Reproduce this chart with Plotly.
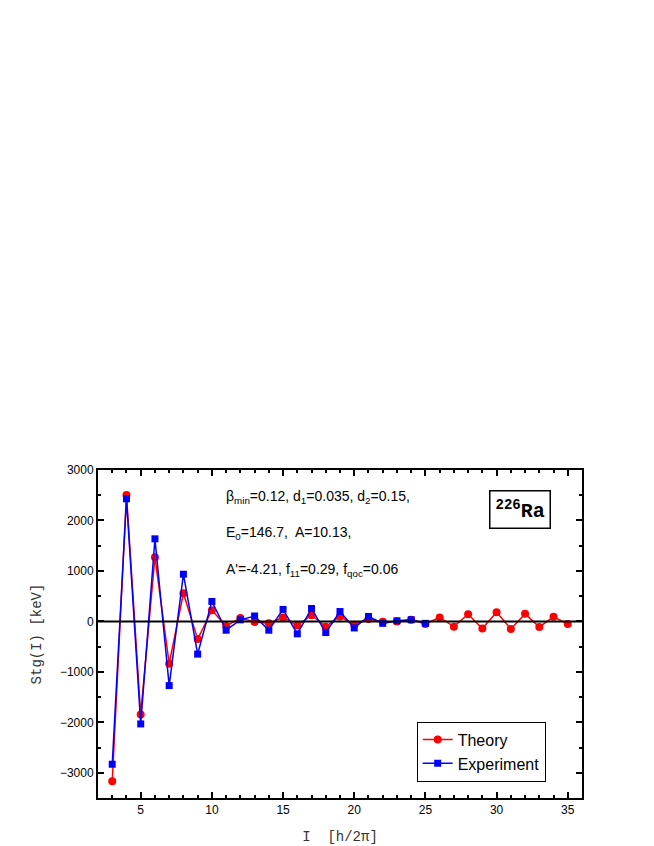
import plotly.graph_objects as go

I_theory = list(range(3, 36))
theory = [-3170, 2506, -1844, 1273, -838, 558, -351, 221, -91, 65, -13, -39, 78, -84, 123, -104,
          97, -65, 45, -6, 0, 32, -52, 78, -104, 143, -143, 182, -149, 149, -110, 91, -52]
I_exp = list(range(3, 26))
experiment = [-2831, 2429, -2032, 1636, -1273, 935, -649, 395, -175, 30, 107, -175, 237, -247, 255, -221,
              195, -130, 97, -39, 13, 32, -39]

fig = go.Figure()
fig.add_hline(y=0, line=dict(color="black", width=2))
fig.add_trace(go.Scatter(x=I_theory, y=theory, mode="lines+markers", name="Theory",
                         line=dict(color="red", width=1.5), marker=dict(symbol="circle", size=8, color="red")))
fig.add_trace(go.Scatter(x=I_exp, y=experiment, mode="lines+markers", name="Experiment",
                         line=dict(color="blue", width=1.5), marker=dict(symbol="square", size=7, color="blue")))

ax = dict(showline=True, linecolor="black", linewidth=2, mirror="ticks", ticks="inside",
          ticklen=6, tickwidth=1.5, tickcolor="black", showgrid=False, zeroline=False,
          tickfont=dict(family="Arial", size=12, color="black"))
fig.update_xaxes(**ax, range=[2, 36], tickvals=[5, 10, 15, 20, 25, 30, 35],
                 minor=dict(ticks="inside", ticklen=3, dtick=1, tickcolor="black"),
                 title=dict(text="I  [h/2π]", font=dict(family="Courier New, Liberation Mono", size=14, color="#333")))
fig.update_yaxes(**ax, range=[-3500, 3000], dtick=1000,
                 minor=dict(ticks="inside", ticklen=3, dtick=500, tickcolor="black"),
                 title=dict(text="Stg(I) [keV]", font=dict(family="Courier New, Liberation Mono", size=14, color="#333")))

fig.add_annotation(xref="paper", yref="paper", x=0.26, y=0.95, xanchor="left", yanchor="top",
                   align="left", showarrow=False,
                   text="β<sub>min</sub>=0.12, d<sub>1</sub>=0.035, d<sub>2</sub>=0.15,<br><br>E<sub>0</sub>=146.7,  A=10.13,<br><br>A'=-4.21, f<sub>11</sub>=0.29, f<sub>qoc</sub>=0.06",
                   font=dict(family="Arial", size=14, color="black"))
fig.add_annotation(xref="paper", yref="paper", x=0.935, y=0.94, xanchor="right", yanchor="top",
                   showarrow=False, bordercolor="black", borderwidth=1.5, borderpad=5, bgcolor="white",
                   text="<b><sup>226</sup>Ra</b>", font=dict(family="Courier New, Liberation Mono", size=20, color="black"))

fig.update_layout(width=654, height=846, plot_bgcolor="white", paper_bgcolor="white",
                  margin=dict(l=90, r=80, t=462, b=50),
                  legend=dict(x=0.925, y=0.05, xanchor="right", yanchor="bottom", bordercolor="black",
                              borderwidth=1, font=dict(family="Arial", size=16, color="black")),
                  showlegend=True)
fig.write_html("out.html")
